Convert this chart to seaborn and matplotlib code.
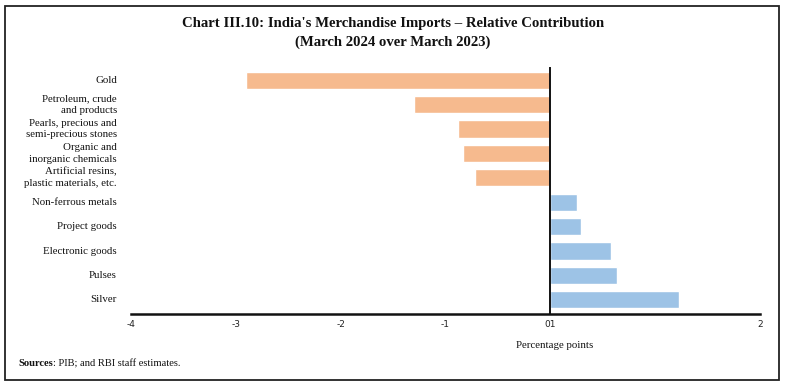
import matplotlib
matplotlib.use("Agg")
import matplotlib.pyplot as plt
import matplotlib.transforms as mtransforms
from matplotlib.patches import Rectangle
import seaborn as sns
import pandas as pd

categories = [
    "Gold",
    "Petroleum, crude\nand products",
    "Pearls, precious and\nsemi-precious stones",
    "Organic and\ninorganic chemicals",
    "Artificial resins,\nplastic materials, etc.",
    "Non-ferrous metals",
    "Project goods",
    "Electronic goods",
    "Pulses",
    "Silver",
]
values = [-2.90, -1.30, -0.88, -0.83, -0.72, 0.25, 0.29, 0.58, 0.64, 1.23]
xticks = [-4, -3, -2, -1, 0, 1, 2]
xticklabels = ["-4", "-3", "-2", "-1", "01", "", "2"]

title = "Chart III.10: India's Merchandise Imports \u2013 Relative Contribution\n(March 2024 over March 2023)"
xlabel = "Percentage points"

sns.set_theme(style="white")
plt.rcParams["font.family"] = ["Liberation Serif", "DejaVu Serif"]

df = pd.DataFrame({"cat": categories, "val": values,
                   "sign": ["neg" if v < 0 else "pos" for v in values]})

W, H = 785, 386
fig = plt.figure(figsize=(W / 100, H / 100), dpi=100)
ax = fig.add_axes([131 / W, 1 - 314 / H, (760 - 131) / W, (314 - 68) / H])

sns.barplot(data=df, x="val", y="cat", hue="sign", orient="h",
            palette={"neg": "#F6BA8E", "pos": "#9DC3E6"},
            dodge=False, legend=False, width=0.7, ax=ax, saturation=1)

ax.set_xlim(-4, 2)
ax.set_ylim(9.58, -0.5)
ax.set_xticks(xticks)
ax.set_xticklabels(xticklabels, fontfamily="DejaVu Sans", fontsize=6.5, color="#222222")
ax.tick_params(axis="x", direction="out", length=3, width=0.8, color="#777777", pad=1)

for s in ["top", "right"]:
    ax.spines[s].set_visible(False)
ax.spines["left"].set_position(("data", 0))
ax.spines["left"].set_linewidth(1.4)
ax.spines["left"].set_color("#111111")
ax.spines["bottom"].set_linewidth(1.8)
ax.spines["bottom"].set_color("#111111")
ax.set_yticks([i - 0.5 for i in range(11)])
ax.set_yticklabels([])
ax.tick_params(axis="y", direction="inout", length=4, width=0.8, color="#666666")
ax.set_xlabel("")
ax.set_ylabel("")

trans = mtransforms.blended_transform_factory(fig.transFigure, ax.transData)
for i, c in enumerate(categories):
    ax.text(117 / W, i, c, transform=trans, ha="right", va="center",
            fontsize=7.8, color="#111111", linespacing=1.4)

fig.text(555 / W, 1 - 345 / H, xlabel, ha="center", va="center", fontsize=7.8, color="#111111")
fig.text(393 / W, 1 - 33 / H, title, ha="center", va="center", fontsize=10.6,
         fontweight="bold", color="#111111", linespacing=1.6)

src_b = fig.text(18 / W, 1 - 364 / H, "Sources", ha="left", va="center", fontsize=7.6,
                 fontweight="bold", color="#111111")
renderer = fig.canvas.get_renderer()
bb = src_b.get_window_extent(renderer=renderer)
fig.text(bb.x1 / W, 1 - 364 / H, ": PIB; and RBI staff estimates.", ha="left", va="center",
         fontsize=7.6, color="#111111")

fig.patches.append(Rectangle((5 / W, 1 - 380 / H), (779 - 5) / W, (380 - 6) / H,
                             transform=fig.transFigure, fill=False,
                             edgecolor="#222222", linewidth=1.3))

fig.savefig("out.png", dpi=100)
